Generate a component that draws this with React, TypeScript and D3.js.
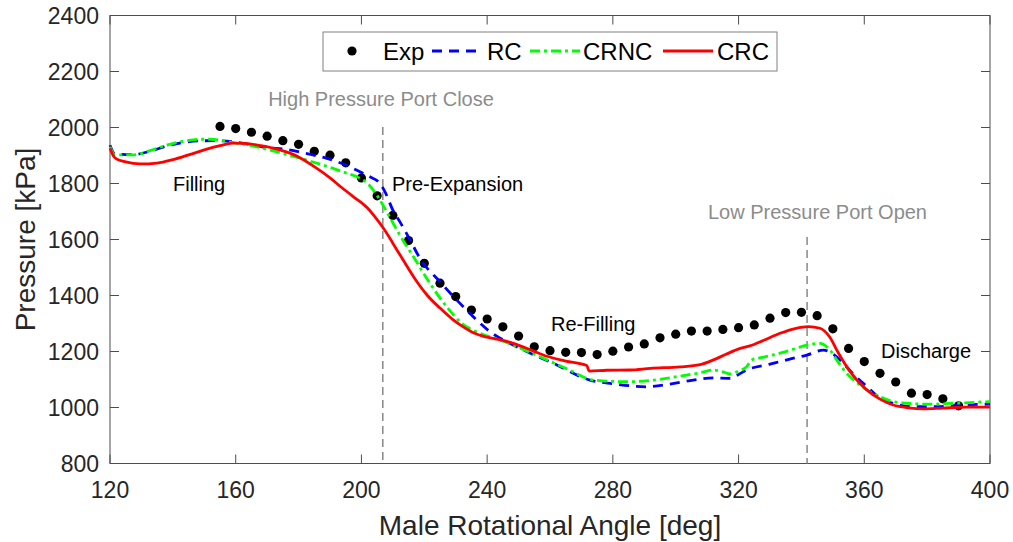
import React from "react";
import * as d3 from "d3";

// experimental points
const expAngle = [155, 160, 165, 170, 175, 180, 185, 190, 195, 200, 205, 210, 215, 220, 225, 230, 235, 240, 245, 250, 255, 260, 265, 270, 275, 280, 285, 290, 295, 300, 305, 310, 315, 320, 325, 330, 335, 340, 345, 350, 355, 360, 365, 370, 375, 380, 385, 390];
const expP = [2004, 1996, 1983, 1969, 1953, 1940, 1915, 1901, 1874, 1820, 1756, 1686, 1596, 1515, 1444, 1396, 1348, 1316, 1288, 1255, 1217, 1203, 1197, 1196, 1189, 1201, 1216, 1227, 1249, 1262, 1273, 1273, 1279, 1285, 1295, 1319, 1339, 1340, 1328, 1281, 1211, 1164, 1122, 1091, 1051, 1046, 1031, 1006];

// RC model
const rcAngle = [120, 121.6, 127, 133, 138, 143, 148, 153, 159, 165, 170, 176, 182, 189, 195, 199.5, 203, 205.4, 207.5, 210, 212.3, 215.5, 218.6, 225, 232.4, 240.9, 250.5, 261, 272.7, 280, 290.7, 298, 305.6, 312, 317.3, 320, 322.6, 330, 336, 341.7, 347, 349.5, 352.3, 356, 360.8, 365, 370, 375.6, 383, 391.5, 400];
const rcP = [1937, 1905, 1903, 1916, 1934, 1946, 1952, 1953, 1949, 1938, 1928, 1922, 1908, 1890, 1866, 1842, 1822, 1806, 1770, 1705, 1662, 1598, 1533, 1449, 1360, 1271, 1211, 1158, 1098, 1085, 1074, 1083, 1098, 1106, 1104, 1118, 1134, 1155, 1172, 1187, 1205, 1195, 1170, 1125, 1075, 1033, 1012, 1003, 1003, 1009, 1012];

// CRNC model
const crncAngle = [120, 121.6, 127.4, 133, 138, 143, 148.6, 151.8, 155, 159.2, 165, 169.9, 175, 180.5, 186, 191, 195, 199.5, 202, 204.9, 207, 209, 212, 217, 222, 227.1, 232, 237.7, 243, 248.3, 254, 259, 266, 273.8, 285.5, 293, 301.4, 307.7, 312, 315, 317.3, 320, 322.6, 324.2, 328, 333.2, 338, 341.7, 345.9, 349.1, 351.5, 354.4, 357.5, 360.8, 365, 369.2, 375, 380.9, 390, 400];
const crncP = [1931, 1902, 1902, 1918, 1937, 1950, 1958, 1958, 1955, 1946, 1935, 1922, 1907, 1890, 1872, 1854, 1838, 1819, 1800, 1759, 1720, 1680, 1620, 1530, 1440, 1360, 1300, 1265, 1245, 1223, 1195, 1170, 1135, 1098, 1092, 1098, 1112, 1124, 1134, 1127, 1120, 1130, 1146, 1170, 1180, 1194, 1210, 1223, 1229, 1205, 1165, 1122, 1090, 1063, 1038, 1021, 1014, 1012, 1016, 1021];

// CRC model
const crcAngle = [120, 121, 122, 125, 129.5, 135, 140, 145, 150, 155, 159, 163, 168, 174, 180, 185, 190, 194, 198, 201, 201.7, 204, 207, 212, 217, 221, 225, 229, 232.4, 236, 240, 245, 248.3, 254, 259, 265, 271.7, 272.5, 278, 285.5, 292, 301.4, 307.7, 312, 316, 320.5, 323.6, 328, 333.2, 338, 342.2, 345.9, 349.1, 351.5, 354.4, 357.5, 360.8, 365, 369.2, 374, 378.8, 385, 392, 400];
const crcP = [1926, 1900, 1888, 1877, 1870, 1873, 1885, 1902, 1920, 1935, 1944, 1943, 1935, 1920, 1895, 1860, 1820, 1783, 1748, 1722, 1715, 1685, 1640, 1550, 1460, 1400, 1355, 1315, 1288, 1265, 1251, 1240, 1229, 1205, 1183, 1166, 1150, 1130, 1133, 1134, 1140, 1145, 1153, 1170, 1190, 1211, 1220, 1240, 1265, 1282, 1289, 1283, 1250, 1200, 1146, 1100, 1063, 1030, 1009, 999, 995, 998, 1001, 1001];

const xTicks = [120, 160, 200, 240, 280, 320, 360, 400];
const yTicks = [800, 1000, 1200, 1400, 1600, 1800, 2000, 2200, 2400];

const W = 1013;
const H = 542;
const FONT = "'Liberation Sans', Arial, sans-serif";

const App = () => {
  const x = d3.scaleLinear().domain([120, 400]).range([110, 990]);
  const y = d3.scaleLinear().domain([800, 2400]).range([463.5, 15.5]);
  const [x0, x1] = x.range();
  const [yb, yt] = y.range();

  const line = d3
    .line<[number, number]>()
    .x((d) => x(d[0]))
    .y((d) => y(d[1]))
    .curve(d3.curveMonotoneX);

  const zip = (a: number[], b: number[]) => a.map((v, i) => [v, b[i]] as [number, number]);

  const series = [
    { name: "RC", pts: zip(rcAngle, rcP), color: "#0000ff", dash: "10,7" },
    { name: "CRNC", pts: zip(crncAngle, crncP), color: "#00ff00", dash: "10,4,3,4" },
    { name: "CRC", pts: zip(crcAngle, crcP), color: "#ff0000", dash: "none" },
  ];

  const axisCol = "#4d4d4d";
  const tickLen = 9;

  return (
    <svg width={W} height={H} style={{ position: "absolute", left: 0, top: 0 }} fontFamily={FONT}>
      <rect width={W} height={H} fill="#fff" />
      {/* ticks on all four sides */}
      {xTicks.map((t) => (
        <g key={"xt" + t}>
          <line x1={x(t)} x2={x(t)} y1={yb} y2={yb - tickLen} stroke={axisCol} />
          <line x1={x(t)} x2={x(t)} y1={yt} y2={yt + tickLen} stroke={axisCol} />
          <text x={x(t)} y={498} fontSize={23} textAnchor="middle" fill="#262626">
            {t}
          </text>
        </g>
      ))}
      {yTicks.map((t) => (
        <g key={"yt" + t}>
          <line x1={x0} x2={x0 + tickLen} y1={y(t)} y2={y(t)} stroke={axisCol} />
          <line x1={x1} x2={x1 - tickLen} y1={y(t)} y2={y(t)} stroke={axisCol} />
          <text x={99} y={y(t) + 8} fontSize={23} textAnchor="end" fill="#262626">
            {t}
          </text>
        </g>
      ))}
      <rect x={x0} y={yt} width={x1 - x0} height={yb - yt} fill="none" stroke={axisCol} strokeWidth={1} />

      {/* port events */}
      <line x1={x(206.8)} x2={x(206.8)} y1={y(2002)} y2={yb} stroke="#888" strokeWidth={1.5} strokeDasharray="8,5" />
      <line x1={x(341.8)} x2={x(341.8)} y1={y(1609)} y2={yb} stroke="#888" strokeWidth={1.5} strokeDasharray="8,5" />
      <text x={381} y={106} fontSize={20} textAnchor="middle" fill="#8c8c8c">
        High Pressure Port Close
      </text>
      <text x={817.5} y={219} fontSize={20} textAnchor="middle" fill="#8c8c8c">
        Low Pressure Port Open
      </text>

      {/* stage labels */}
      <text x={173} y={191} fontSize={20} fill="#000">Filling</text>
      <text x={392} y={191} fontSize={20} fill="#000">Pre-Expansion</text>
      <text x={551} y={331} fontSize={20} fill="#000">Re-Filling</text>
      <text x={881} y={358} fontSize={20} fill="#000">Discharge</text>

      {/* data */}
      {expAngle.map((a, i) => (
        <circle key={"e" + i} cx={x(a)} cy={y(expP[i])} r={4.6} fill="#000" />
      ))}
      {series.map((s) => (
        <path
          key={s.name}
          d={line(s.pts) || ""}
          fill="none"
          stroke={s.color}
          strokeWidth={2.8}
          strokeDasharray={s.dash}
        />
      ))}

      {/* legend */}
      <g>
        <rect x={323} y={32} width={454} height={39} fill="#fff" stroke="#808080" strokeWidth={1} />
        <circle cx={352} cy={51} r={4.6} fill="#000" />
        <text x={383} y={60} fontSize={24} fill="#000">Exp</text>
        <line x1={432} x2={483} y1={51} y2={51} stroke="#0000ff" strokeWidth={2.8} strokeDasharray="10,7" />
        <text x={487} y={60} fontSize={24} fill="#000">RC</text>
        <line x1={530} x2={580} y1={51} y2={51} stroke="#00ff00" strokeWidth={2.8} strokeDasharray="10,4,3,4" />
        <text x={583} y={60} fontSize={24} fill="#000">CRNC</text>
        <line x1={663} x2={713} y1={51} y2={51} stroke="#ff0000" strokeWidth={2.8} />
        <text x={717} y={60} fontSize={24} fill="#000">CRC</text>
      </g>

      {/* axis titles */}
      <text x={(x0 + x1) / 2} y={535} fontSize={28} textAnchor="middle" fill="#262626">
        Male Rotational Angle [deg]
      </text>
      <text
        transform={`translate(35,${(yt + yb) / 2}) rotate(-90)`}
        fontSize={28}
        textAnchor="middle"
        fill="#262626"
      >
        Pressure [kPa]
      </text>
    </svg>
  );
};

export default App;
